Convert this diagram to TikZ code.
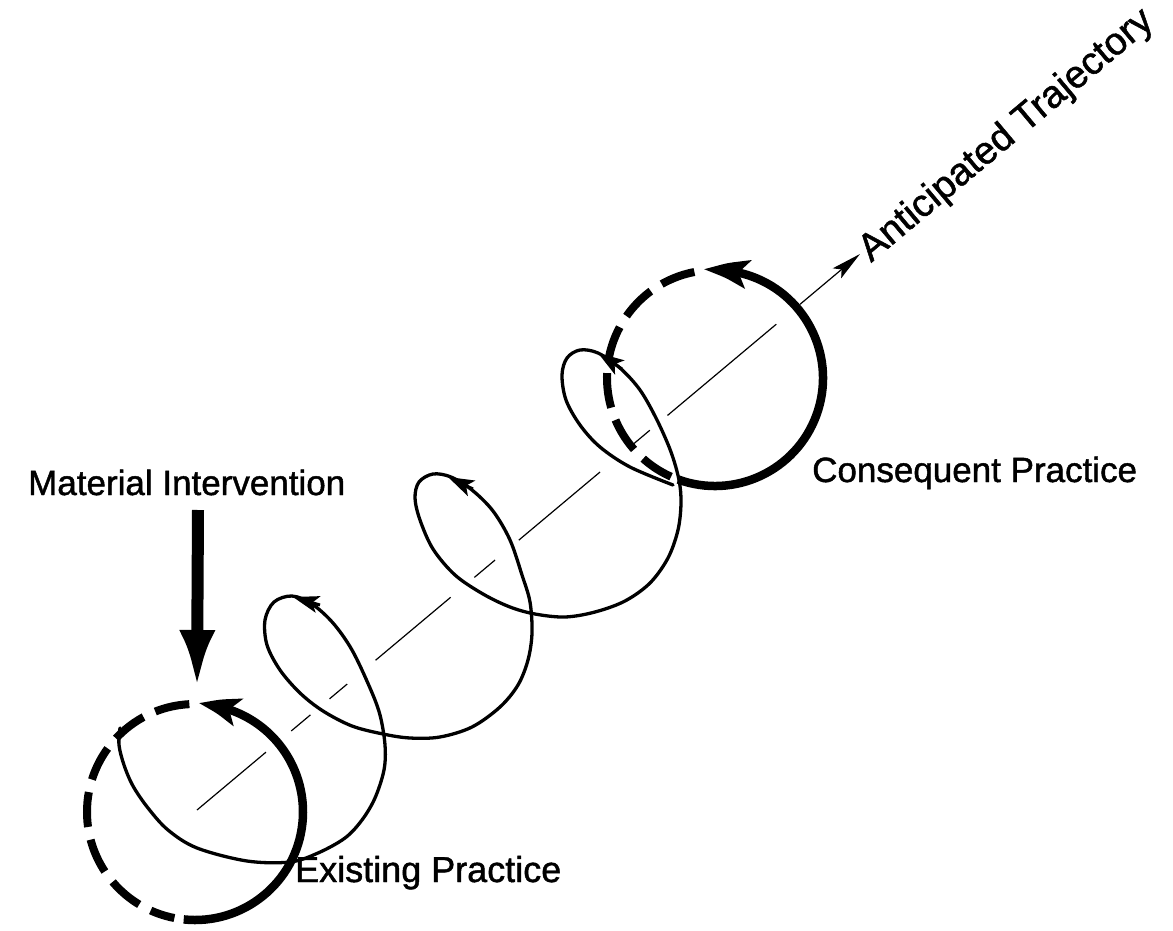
\documentclass[tikz,border=0pt]{standalone}
\usepackage{fontspec}
\setmainfont{Liberation Sans}
\newfontfamily\labelfont{Liberation Sans}[FakeBold=1.3]
\usetikzlibrary{arrows.meta,bending}
\begin{document}
\begin{tikzpicture}[x=1pt,y=1pt,
  helix/.style={line width=3.3pt, line join=round, line cap=round},
  cyclesolid/.style={line width=8.5pt},
  cycledash/.style={line width=8pt, dash pattern=on 35pt off 13pt},
  looptip/.style={line width=3pt, -{Stealth[length=26pt,width=17pt,inset=6pt]}},
  axisline/.style={line width=1.2pt,
    dash pattern=on 90pt off 33pt on 25pt off 25pt on 23pt off 37pt on 98pt off 31pt on 27pt off 31pt on 106pt off 42pt on 23pt off 23pt on 142pt off 31pt on 200pt,
    -{Stealth[length=30pt,width=13pt,inset=6pt]}},
  txt/.style={font=\labelfont\fontsize{35}{40}\selectfont, inner sep=0pt, anchor=base west}]
\useasboundingbox (0,0) rectangle (1173,-931);

% centres of the two practice cycles and the trajectory axis
\coordinate (E) at (195,-812);
\coordinate (C) at (715,-378);
\coordinate (axisstart) at (197,-810);
\coordinate (axisend) at (860,-254);

% anticipated trajectory
\draw[axisline] (axisstart) -- (axisend);
\node[txt, font=\labelfont\fontsize{38.5}{43}\selectfont, rotate=40] (traj) at (871,-263) {Anticipated Trajectory};

% existing practice cycle
\draw[cycledash] ([shift={(93:108)}]E) arc[start angle=93, end angle=259, radius=108];
\draw[cyclesolid, -{Stealth[length=40pt,width=28pt,inset=9pt,bend]}]
  ([shift={(-96:108)}]E) arc[start angle=-96, end angle=88, radius=108];

% consequent practice cycle
\draw[cycledash] ([shift={(101:108)}]C) arc[start angle=101, end angle=246, radius=108];
\draw[cyclesolid, -{Stealth[length=44pt,width=28pt,inset=9pt,bend]}]
  ([shift={(-110:108)}]C) arc[start angle=-110, end angle=96, radius=108];

% helical path from the existing to the consequent practice
\draw[helix] plot[smooth, tension=0.55] coordinates {
  (120,-728) (119,-745) (124,-765) (133,-786) (148,-808) (168,-830) (197,-848)
  (247,-861) (290,-862) (318,-853) (345,-838) (362,-820) (375,-798) (384,-770)
  (385,-745) (380,-715) (370,-688) (352,-650) (333,-623) (312,-604) (292,-596)
  (274,-602) (265,-620) (267,-645) (280,-670) (300,-693) (323,-711) (352,-726)
  (383,-734) (410,-738) (440,-737) (472,-727) (500,-707) (518,-685) (528,-660)
  (532,-633) (530,-602) (522,-575) (510,-540) (493,-511) (472,-490) (451,-477)
  (433,-474) (419,-482) (415,-498) (420,-520) (433,-549) (455,-575) (483,-594)
  (510,-607) (535,-614) (565,-617) (595,-612) (625,-601) (650,-583) (668,-558)
  (678,-530) (681,-503) (679,-480) (671,-452) (657,-420) (640,-390) (620,-368)
  (598,-353) (580,-350) (567,-358) (562,-375) (566,-400) (580,-425) (600,-447)
  (630,-467) (673,-485)};

% direction marks on the loops
\coordinate (l2a) at (320,-605); \coordinate (l2b) at (293,-597);
\coordinate (l3a) at (473,-489); \coordinate (l3b) at (448,-477);
\coordinate (l4a) at (622,-369); \coordinate (l4b) at (598,-353);
\draw[looptip] (l2a) -- (l2b);
\draw[looptip] (l3a) -- (l3b);
\draw[looptip] (l4a) -- (l4b);

% material intervention
\coordinate (mitop) at (198,-510);
\coordinate (mitip) at (197,-688);
\draw[line width=12pt, -{Latex[length=58pt,width=36pt]}] (mitop) -- (mitip);

% labels
\node[txt] (mat) at (28,-495) {Material Intervention};
\node[txt] (cons) at (812,-482) {Consequent Practice};
\node[txt, font=\labelfont\fontsize{36}{41}\selectfont] (exist) at (295,-882) {Existing Practice};
\end{tikzpicture}
\end{document}
